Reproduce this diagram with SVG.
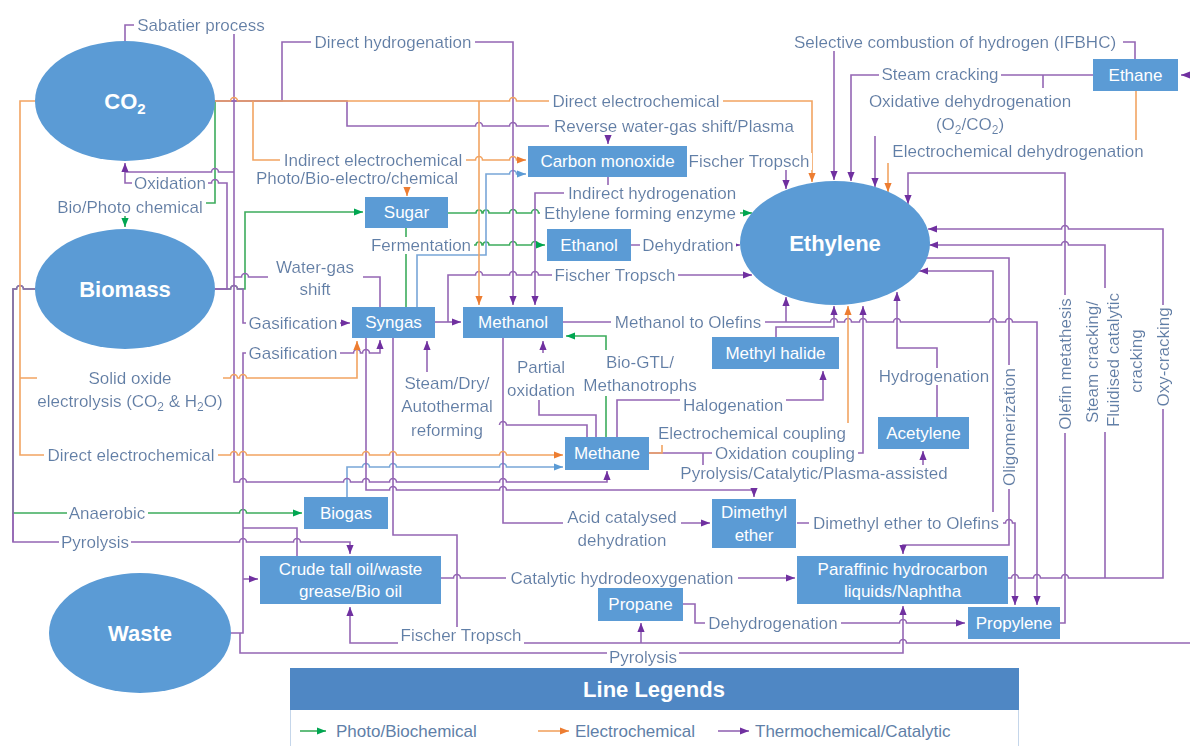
<svg xmlns="http://www.w3.org/2000/svg" width="1190" height="746" viewBox="0 0 1190 746">
  <style>
    .node { fill: #5b9bd5; }
    .nt { font-family: "Liberation Sans", Arial, sans-serif; font-size: 17px; fill: #ffffff; text-anchor: middle; }
    .big { font-family: "Liberation Sans", Arial, sans-serif; font-size: 22px; font-weight: bold; fill: #ffffff; text-anchor: middle; }
    .lbl { font-family: "Liberation Sans", Arial, sans-serif; font-size: 17px; fill: #5f7fa8; text-anchor: middle; filter: url(#bg); }
    .lk { font-family: "Liberation Sans", Arial, sans-serif; font-size: 17px; fill: #5f7fa8; }
    .p { fill: none; stroke: #9466b4; stroke-width: 1.6; }
    .o { fill: none; stroke: #f2a462; stroke-width: 1.6; }
    .g { fill: none; stroke: #3cac5c; stroke-width: 1.6; }
    .b { fill: none; stroke: #78a6d8; stroke-width: 1.6; }
    .pa { marker-end: url(#ap); }
    .oa { marker-end: url(#ao); }
    .ga { marker-end: url(#ag); }
    .ba { marker-end: url(#ab); }
    .wb { fill: #ffffff; }
  </style>
  <defs>
    <!-- white box behind connector labels -->
    <filter id="bg" x="-0.02" y="0.06" width="1.04" height="0.88">
      <feFlood flood-color="#ffffff"/>
      <feComposite in="SourceGraphic" operator="over"/>
    </filter>
    <marker id="ap" viewBox="0 0 10 10" refX="10" refY="5" markerWidth="9" markerHeight="9" markerUnits="userSpaceOnUse" orient="auto"><path d="M0,1 L10,5 L0,9 z" fill="#7030a0"/></marker>
    <marker id="ao" viewBox="0 0 10 10" refX="10" refY="5" markerWidth="9" markerHeight="9" markerUnits="userSpaceOnUse" orient="auto"><path d="M0,1 L10,5 L0,9 z" fill="#ed7d31"/></marker>
    <marker id="ag" viewBox="0 0 10 10" refX="10" refY="5" markerWidth="9" markerHeight="9" markerUnits="userSpaceOnUse" orient="auto"><path d="M0,1 L10,5 L0,9 z" fill="#00a651"/></marker>
    <marker id="ab" viewBox="0 0 10 10" refX="10" refY="5" markerWidth="9" markerHeight="9" markerUnits="userSpaceOnUse" orient="auto"><path d="M0,1 L10,5 L0,9 z" fill="#5b9bd5"/></marker>
  </defs>

  <rect width="1190" height="746" fill="#ffffff"/>

  <!-- connectors (horizontal runs hop over the lines they cross) -->
  <g id="connectors">
    <!-- green: photo / biochemical -->
    <path class="g ga" d="M215,101 V203 H125 V227"/>
    <path class="g ga" d="M215,289 H230.5 a3.5,3.5 0 0 1 7,0 H245 V212 H363"/>
    <path class="g ga" d="M448,213 H476 a3,3 0 0 1 6,0 H483 a3,3 0 0 1 6,0 H509.5 a3.5,3.5 0 0 1 7,0 H531.5 a3.5,3.5 0 0 1 7,0 H752"/>
    <path class="g" d="M406,228 V307"/>
    <path class="g ga" d="M406,245 H476 a3,3 0 0 1 6,0 H483 a3,3 0 0 1 6,0 H509.5 a3.5,3.5 0 0 1 7,0 H531.5 a3.5,3.5 0 0 1 7,0 H545"/>
    <path class="p" d="M13,513 V542"/>
    <path class="g ga" d="M35,289 H23.5 a3.5,3.5 0 0 0 -7,0 H13 V513 H239.5 a3.5,3.5 0 0 1 7,0 H302"/>
    <path class="g" d="M606,437 V396"/>
    <path class="g ga" d="M606,350 V336 H566"/>

    <!-- light blue -->
    <path class="b ba" d="M417,307 V255 H486 V174 H509.5 a3.5,3.5 0 0 1 7,0 H526"/>
    <path class="b ba" d="M347,497 V467 H362.5 a3.5,3.5 0 0 1 7,0 H389.5 a3.5,3.5 0 0 1 7,0 H499.5 a3.5,3.5 0 0 1 7,0 H563"/>

    <!-- purple: thermochemical / catalytic -->
    <path class="p pa" d="M125,41 V25 H234 V482 H239.5 a3.5,3.5 0 0 1 7,0 H343.5 a3.5,3.5 0 0 1 7,0 H362.5 a3.5,3.5 0 0 1 7,0 H389.5 a3.5,3.5 0 0 1 7,0 H499.5 a3.5,3.5 0 0 1 7,0 H607 V471"/>
    <path class="p" d="M234,172 H218.5 a3.5,3.5 0 0 0 -7,0 H125"/>
    <path class="p pa" d="M215,101 H282 V42 H513 V305"/>
    <path class="p pa" d="M215,101 H347 V126 H475.5 a3.5,3.5 0 0 1 7,0 H509.5 a3.5,3.5 0 0 1 7,0 H608 V144"/>
    <path class="p pa" d="M687,161 H786 V189"/>
    <path class="p pa" d="M608,177 V193 H535 V305"/>
    <path class="p pa" d="M215,289 H227 V183 H218.5 a3.5,3.5 0 0 0 -7,0 H125 V163"/>
    <path class="p" d="M234,277 H241.5 a3.5,3.5 0 0 1 7,0 H380 V307"/>
    <path class="p pa" d="M215,289 H230.5 a3.5,3.5 0 0 1 7,0 H243 V323 H350"/>
    <path class="p pa" d="M230,633 H243 V353 H353.5 a3.5,3.5 0 0 1 7,0 H362.5 a3.5,3.5 0 0 1 7,0 H380 V340"/>
    <path class="p pa" d="M435,322 H461"/>
    <path class="p pa" d="M448,322 V275 H475.5 a3.5,3.5 0 0 1 7,0 H509.5 a3.5,3.5 0 0 1 7,0 H531.5 a3.5,3.5 0 0 1 7,0 H752"/>
    <path class="p pa" d="M631,245 H740"/>
    <path class="p pa" d="M563,322 H830.5 a3.5,3.5 0 0 1 7,0 H844.5 a3.5,3.5 0 0 1 7,0 H859.5 a3.5,3.5 0 0 1 7,0 H893.5 a3.5,3.5 0 0 1 7,0 H989.5 a3.5,3.5 0 0 1 7,0 H1005.5 a3.5,3.5 0 0 1 7,0 H1037 V605"/>
    <path class="p pa" d="M786,322 V297"/>
    <path class="p pa" d="M776,337 V327 H834 V306"/>
    <path class="p pa" d="M617,437 V400 H823 V371"/>
    <path class="p" d="M596,437 V415 H539 V400"/>
    <path class="p pa" d="M543,353 V341"/>
    <path class="p" d="M587,437 V425 H506.5 a3.5,3.5 0 0 0 -7,0"/>
    <path class="p pa" d="M427,372 V341"/>
    <path class="p pa" d="M649,453 H863 V306"/>
    <path class="p pa" d="M703,453 V473 H923 V451"/>
    <path class="p pa" d="M937,417 V348 H897 V292"/>
    <path class="p pa" d="M366,338 V490 H389.5 a3.5,3.5 0 0 1 7,0 H499.5 a3.5,3.5 0 0 1 7,0 H754 V497"/>
    <path class="p pa" d="M503,338 V523 H710"/>
    <path class="p pa" d="M797,523 H1005.5 a3.5,3.5 0 0 1 7,0 H1015 V605"/>
    <path class="p pa" d="M993,512 V271 H919"/>
    <path class="p pa" d="M926,258 H1009 V545 H903 V554"/>
    <path class="p pa" d="M1060,623 H1065 V173 H908 V204"/>
    <path class="p pa" d="M1105,578 V245 H1068.5 a3.5,3.5 0 0 0 -7,0 H929"/>
    <path class="p pa" d="M1008,578 H1011.5 a3.5,3.5 0 0 1 7,0 H1033.5 a3.5,3.5 0 0 1 7,0 H1061.5 a3.5,3.5 0 0 1 7,0 H1163 V229 H1068.5 a3.5,3.5 0 0 0 -7,0 H928"/>
    <path class="p pa" d="M1135,59 V42 H834 V180"/>
    <path class="p pa" d="M1093,75 H851 V181"/>
    <path class="p" d="M1043,75 V88"/>
    <path class="p pa" d="M875,136 V187"/>
    <path class="p pa" d="M1190,75 H1181"/>
    <path class="p pa" d="M683,604 H695 V623 H899.5 a3.5,3.5 0 0 1 7,0 H965"/>
    <path class="p pa" d="M441,578 H453.5 a3.5,3.5 0 0 1 7,0 H795"/>
    <path class="p" d="M393,338 V535 H457 V643"/>
    <path class="p pa" d="M457,643 H350 V607"/>
    <path class="p" d="M457,643 H899.5 a3.5,3.5 0 0 1 7,0 H1190"/>
    <path class="p pa" d="M641,643 V623"/>
    <path class="p pa" d="M240,633 V653 H903 V606"/>
    <path class="p pa" d="M35,289 H23.5 a3.5,3.5 0 0 0 -7,0 H13 V542 H239.5 a3.5,3.5 0 0 1 7,0 H293.5 a3.5,3.5 0 0 1 7,0 H350 V554"/>
    <path class="p pa" d="M243,579 H258"/>
    <path class="p" d="M243,528 H297 V556"/>

    <!-- orange: electrochemical -->
    <path class="o oa" d="M215,101 H230.5 a3.5,3.5 0 0 1 7,0 H509.5 a3.5,3.5 0 0 1 7,0 H812 V182"/>
    <path class="o oa" d="M253,101 V160 H475.5 a3.5,3.5 0 0 1 7,0 H509.5 a3.5,3.5 0 0 1 7,0 H526"/>
    <path class="o oa" d="M407,187 V196"/>
    <path class="o oa" d="M479,101 V305"/>
    <path class="o oa" d="M35,101 H20 V455 H230.5 a3.5,3.5 0 0 1 7,0 H239.5 a3.5,3.5 0 0 1 7,0 H362.5 a3.5,3.5 0 0 1 7,0 H389.5 a3.5,3.5 0 0 1 7,0 H499.5 a3.5,3.5 0 0 1 7,0 H563"/>
    <path class="o oa" d="M20,378 H230.5 a3.5,3.5 0 0 1 7,0 H239.5 a3.5,3.5 0 0 1 7,0 H357 V341"/>
    <path class="o" d="M649,453 H662 V445"/>
    <path class="o oa" d="M848,423 V306"/>
    <path class="o" d="M1136,91 V140"/>
    <path class="o oa" d="M888,163 V192"/>

    <!-- white backing for multi-line labels -->
    <rect class="wb" x="268" y="255" width="95" height="45"/>
    <rect class="wb" x="37" y="366" width="186" height="46"/>
    <rect class="wb" x="563" y="505" width="118" height="47"/>
    <rect class="wb" x="1080" y="288" width="68" height="144"/>

    <!-- connector labels -->
    <text class="lbl" x="201" y="25" dy=".35em">Sabatier process</text>
    <text class="lbl" x="393" y="42" dy=".35em">Direct hydrogenation</text>
    <text class="lbl" x="636" y="101" dy=".35em">Direct electrochemical</text>
    <text class="lbl" x="674" y="126" dy=".35em">Reverse water-gas shift/Plasma</text>
    <text class="lbl" x="373" y="160" dy=".35em">Indirect electrochemical</text>
    <text class="lbl" x="357" y="178" dy=".35em">Photo/Bio-electro/chemical</text>
    <text class="lbl" x="749" y="161" dy=".35em">Fischer Tropsch</text>
    <text class="lbl" x="170" y="183" dy=".35em">Oxidation</text>
    <text class="lbl" x="130" y="207" dy=".35em">Bio/Photo chemical</text>
    <text class="lbl" x="652" y="193" dy=".35em">Indirect hydrogenation</text>
    <text class="lbl" x="640" y="213" dy=".35em">Ethylene forming enzyme</text>
    <text class="lbl" x="421" y="245" dy=".35em">Fermentation</text>
    <text class="lbl" x="688" y="245" dy=".35em">Dehydration</text>
    <text class="lbl" x="315" y="267" dy=".35em">Water-gas</text>
    <text class="lbl" x="315" y="289" dy=".35em">shift</text>
    <text class="lbl" x="615" y="275" dy=".35em">Fischer Tropsch</text>
    <text class="lbl" x="293" y="323" dy=".35em">Gasification</text>
    <text class="lbl" x="688" y="322" dy=".35em">Methanol to Olefins</text>
    <text class="lbl" x="293" y="353" dy=".35em">Gasification</text>
    <text class="lbl" x="130" y="378" dy=".35em">Solid oxide</text>
    <text class="lbl" x="130" y="401" dy=".35em">electrolysis (CO<tspan font-size="12" dy="4">2</tspan><tspan dy="-4"> &amp; H</tspan><tspan font-size="12" dy="4">2</tspan><tspan dy="-4">O)</tspan></text>
    <text class="lbl" x="541" y="367" dy=".35em">Partial</text>
    <text class="lbl" x="541" y="390" dy=".35em">oxidation</text>
    <text class="lbl" x="640" y="362" dy=".35em">Bio-GTL/</text>
    <text class="lbl" x="640" y="385" dy=".35em">Methanotrophs</text>
    <text class="lbl" x="447" y="383" dy=".35em">Steam/Dry/</text>
    <text class="lbl" x="447" y="406" dy=".35em">Autothermal</text>
    <text class="lbl" x="447" y="430" dy=".35em">reforming</text>
    <text class="lbl" x="733" y="405" dy=".35em">Halogenation</text>
    <text class="lbl" x="934" y="376" dy=".35em">Hydrogenation</text>
    <text class="lbl" x="752" y="433" dy=".35em">Electrochemical coupling</text>
    <text class="lbl" x="131" y="455" dy=".35em">Direct electrochemical</text>
    <text class="lbl" x="785" y="453" dy=".35em">Oxidation coupling</text>
    <text class="lbl" x="814" y="473" dy=".35em">Pyrolysis/Catalytic/Plasma-assisted</text>
    <text class="lbl" x="107" y="513" dy=".35em">Anaerobic</text>
    <text class="lbl" x="622" y="517" dy=".35em">Acid catalysed</text>
    <text class="lbl" x="622" y="540" dy=".35em">dehydration</text>
    <text class="lbl" x="906" y="523" dy=".35em">Dimethyl ether to Olefins</text>
    <text class="lbl" x="95" y="542" dy=".35em">Pyrolysis</text>
    <text class="lbl" x="622" y="578" dy=".35em">Catalytic hydrodeoxygenation</text>
    <text class="lbl" x="773" y="623" dy=".35em">Dehydrogenation</text>
    <text class="lbl" x="461" y="635" dy=".35em">Fischer Tropsch</text>
    <text class="lbl" x="643" y="657" dy=".35em">Pyrolysis</text>
    <text class="lbl" x="955" y="42" dy=".35em">Selective combustion of hydrogen (IFBHC)</text>
    <text class="lbl" x="940" y="74" dy=".35em">Steam cracking</text>
    <text class="lbl" x="970" y="101" dy=".35em">Oxidative dehydrogenation</text>
    <text class="lbl" x="970" y="124" dy=".35em">(O<tspan font-size="12" dy="4">2</tspan><tspan dy="-4">/CO</tspan><tspan font-size="12" dy="4">2</tspan><tspan dy="-4">)</tspan></text>
    <text class="lbl" x="1018" y="151" dy=".35em">Electrochemical dehydrogenation</text>
    <text class="lbl" x="1009" y="427" dy=".35em" transform="rotate(-90 1009 427)">Oligomerization</text>
    <text class="lbl" x="1065" y="364" dy=".35em" transform="rotate(-90 1065 364)">Olefin metathesis</text>
    <text class="lbl" x="1092" y="362" dy=".35em" transform="rotate(-90 1092 362)">Steam cracking/</text>
    <text class="lbl" x="1113" y="360" dy=".35em" transform="rotate(-90 1113 360)">Fluidised catalytic</text>
    <text class="lbl" x="1136" y="361" dy=".35em" transform="rotate(-90 1136 361)">cracking</text>
    <text class="lbl" x="1163" y="357" dy=".35em" transform="rotate(-90 1163 357)">Oxy-cracking</text>
  </g>

  <!-- feedstock ellipses -->
  <g id="co2">
    <ellipse class="node" cx="125" cy="101" rx="90" ry="60"/>
    <text class="big" x="125" y="101" dy=".35em">CO<tspan font-size="15" dy="5">2</tspan></text>
  </g>
  <g id="biomass">
    <ellipse class="node" cx="125" cy="289" rx="90" ry="60"/>
    <text class="big" x="125" y="289" dy=".35em">Biomass</text>
  </g>
  <g id="waste">
    <ellipse class="node" cx="140" cy="633" rx="91" ry="60"/>
    <text class="big" x="140" y="633" dy=".35em">Waste</text>
  </g>
  <g id="ethylene">
    <ellipse class="node" cx="835" cy="243" rx="95" ry="62"/>
    <text class="big" x="835" y="243" dy=".35em">Ethylene</text>
  </g>

  <!-- intermediate products -->
  <g id="carbon-monoxide">
    <rect class="node" x="528" y="146" width="159" height="31"/>
    <text class="nt" x="607.5" y="161.5" dy=".35em">Carbon monoxide</text>
  </g>
  <g id="sugar">
    <rect class="node" x="365" y="197" width="83" height="31"/>
    <text class="nt" x="406.5" y="212.5" dy=".35em">Sugar</text>
  </g>
  <g id="ethanol">
    <rect class="node" x="547" y="229" width="84" height="32"/>
    <text class="nt" x="589" y="245" dy=".35em">Ethanol</text>
  </g>
  <g id="syngas">
    <rect class="node" x="352" y="307" width="83" height="31"/>
    <text class="nt" x="393.5" y="322.5" dy=".35em">Syngas</text>
  </g>
  <g id="methanol">
    <rect class="node" x="463" y="307" width="100" height="31"/>
    <text class="nt" x="513" y="322.5" dy=".35em">Methanol</text>
  </g>
  <g id="methyl-halide">
    <rect class="node" x="712" y="337" width="127" height="32"/>
    <text class="nt" x="775.5" y="353" dy=".35em">Methyl halide</text>
  </g>
  <g id="acetylene">
    <rect class="node" x="878" y="417" width="91" height="32"/>
    <text class="nt" x="923.5" y="433" dy=".35em">Acetylene</text>
  </g>
  <g id="methane">
    <rect class="node" x="565" y="437" width="84" height="33"/>
    <text class="nt" x="607" y="453.5" dy=".35em">Methane</text>
  </g>
  <g id="biogas">
    <rect class="node" x="304" y="497" width="84" height="32"/>
    <text class="nt" x="346" y="513" dy=".35em">Biogas</text>
  </g>
  <g id="dimethyl-ether">
    <rect class="node" x="712" y="499" width="84" height="49"/>
    <text class="nt" x="754" y="512" dy=".35em">Dimethyl</text>
    <text class="nt" x="754" y="535" dy=".35em">ether</text>
  </g>
  <g id="crude-oil">
    <rect class="node" x="260" y="556" width="181" height="48"/>
    <text class="nt" x="350.5" y="569" dy=".35em">Crude tall oil/waste</text>
    <text class="nt" x="350.5" y="591" dy=".35em">grease/Bio oil</text>
  </g>
  <g id="paraffinic">
    <rect class="node" x="797" y="556" width="211" height="48"/>
    <text class="nt" x="902.5" y="569" dy=".35em">Paraffinic hydrocarbon</text>
    <text class="nt" x="902.5" y="591" dy=".35em">liquids/Naphtha</text>
  </g>
  <g id="propane">
    <rect class="node" x="598" y="588" width="85" height="33"/>
    <text class="nt" x="640.5" y="604.5" dy=".35em">Propane</text>
  </g>
  <g id="propylene">
    <rect class="node" x="968" y="607" width="92" height="32"/>
    <text class="nt" x="1014" y="623" dy=".35em">Propylene</text>
  </g>
  <g id="ethane">
    <rect class="node" x="1093" y="59" width="85" height="32"/>
    <text class="nt" x="1135.5" y="75" dy=".35em">Ethane</text>
  </g>

  <!-- line legend -->
  <g id="legend">
    <rect x="290.5" y="668.5" width="728" height="80" fill="#ffffff" stroke="#c5d6ea"/>
    <rect x="290" y="668" width="729" height="42" fill="#4f87c4"/>
    <text class="big" x="654" y="689" dy=".35em">Line Legends</text>
    <path class="g ga" d="M300,731 H326"/>
    <text class="lk" x="336" y="731" dy=".35em">Photo/Biochemical</text>
    <path class="o oa" d="M538,731 H569"/>
    <text class="lk" x="575" y="731" dy=".35em">Electrochemical</text>
    <path class="p pa" d="M718,731 H749"/>
    <text class="lk" x="755" y="731" dy=".35em">Thermochemical/Catalytic</text>
  </g>
</svg>
